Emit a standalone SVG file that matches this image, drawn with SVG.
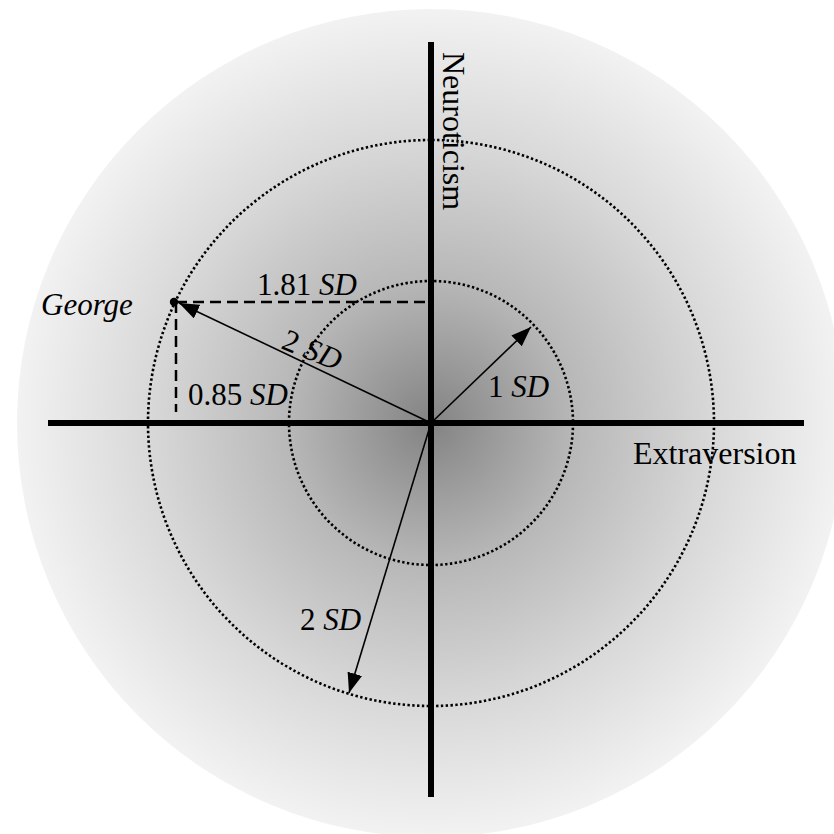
<svg xmlns="http://www.w3.org/2000/svg" width="834" height="834" viewBox="0 0 834 834">
  <defs>
    <radialGradient id="bg" cx="431" cy="423" r="414" gradientUnits="userSpaceOnUse">
      <stop offset="0" stop-color="#838383"/>
      <stop offset="0.15" stop-color="#9a9a9a"/>
      <stop offset="0.35" stop-color="#b8b8b8"/>
      <stop offset="0.68" stop-color="#d8d8d8"/>
      <stop offset="1" stop-color="#f2f2f2"/>
    </radialGradient>
    <marker id="arr" viewBox="0 0 20 15" refX="20" refY="7.5" markerWidth="20" markerHeight="15" markerUnits="userSpaceOnUse" orient="auto">
      <path d="M0,0 L20,7.5 L0,15 Z" fill="#000"/>
    </marker>
    <style>
      .axis { stroke: #000; stroke-width: 6; fill: none; }
      .dotted { stroke: #000; stroke-width: 2.6; stroke-dasharray: 2.4 2.4; fill: none; }
      .dashed { stroke: #000; stroke-width: 2.5; stroke-dasharray: 11 6; fill: none; }
      .arrow { stroke: #000; stroke-width: 1.6; fill: none; marker-end: url(#arr); }
      text { font-family: "Liberation Serif", "Times New Roman", serif; font-size: 31px; fill: #000; }
      .it { font-style: italic; }
      .big { font-size: 32px; }
    </style>
  </defs>

  <g id="background">
    <circle cx="431" cy="423" r="414" fill="url(#bg)"/>
  </g>

  <g id="circles">
    <circle class="dotted" cx="431" cy="423" r="142"/>
    <circle class="dotted" cx="431" cy="423" r="283"/>
  </g>

  <g id="axes">
    <line class="axis" x1="431" y1="42" x2="431" y2="797"/>
    <line class="axis" x1="48" y1="423" x2="804" y2="423"/>
    <text id="neuroticism-label" class="big" transform="translate(443,52) rotate(90)">Neuroticism</text>
    <text id="extraversion-label" class="big" x="633" y="464">Extraversion</text>
  </g>

  <g id="connectors">
    <line class="dashed" x1="176" y1="302" x2="431" y2="302"/>
    <line class="dashed" x1="176" y1="302" x2="176" y2="412"/>
    <line class="arrow" x1="431" y1="423" x2="179" y2="303"/>
    <line class="arrow" x1="431" y1="423" x2="531" y2="327"/>
    <line class="arrow" x1="431" y1="423" x2="349" y2="693"/>
  </g>

  <g id="george">
    <circle cx="174" cy="302" r="4.2" fill="#000"/>
    <text class="it" x="41" y="315">George</text>
  </g>

  <g id="labels">
    <text x="257" y="295">1.81 <tspan class="it">SD</tspan></text>
    <text x="188" y="405">0.85 <tspan class="it">SD</tspan></text>
    <text transform="translate(280,348) rotate(22)">2 <tspan class="it">SD</tspan></text>
    <text x="488" y="397">1 <tspan class="it">SD</tspan></text>
    <text x="300" y="630">2 <tspan class="it">SD</tspan></text>
  </g>
</svg>
